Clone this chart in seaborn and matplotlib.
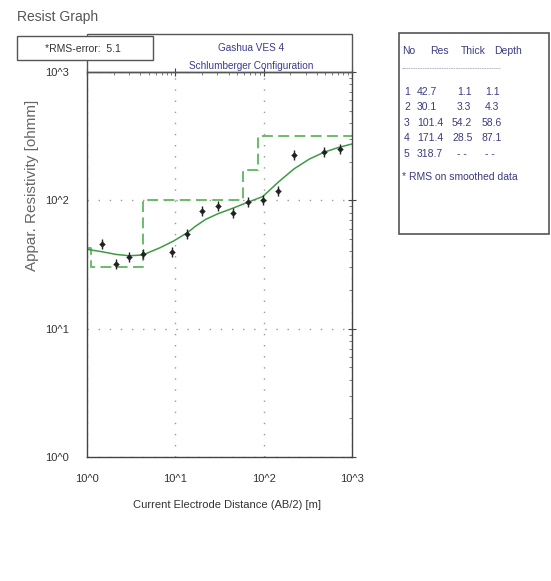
import matplotlib
matplotlib.use("Agg")
import matplotlib.pyplot as plt
import seaborn as sns
import pandas as pd
from matplotlib.patches import Rectangle

# ---- data ----
obs_x = [1.47, 2.13, 3.0, 4.27, 9.1, 13.7, 20.2, 30.2, 44.7, 66, 97.6, 147, 221, 483, 733]
obs_y = [45.3, 31.8, 36.5, 37.9, 39.8, 55, 83.3, 89.9, 79.9, 96.6, 101, 119, 227, 237, 251]

fit_x = [1.0, 1.47, 2.13, 3.0, 4.27, 6.7, 9.5, 13.7, 17.0, 22.0, 30.2, 44.7, 66, 97.6, 147, 221, 330, 483, 700, 1000]
fit_y = [41.5, 39.8, 37.9, 37.0, 37.5, 42.7, 48.1, 56, 63, 71, 78.5, 86.8, 96.6, 107, 139, 176, 210, 237, 258, 275]

layer_no = [1, 2, 3, 4, 5]
layer_res = [42.7, 30.1, 101.4, 171.4, 318.7]
layer_thick = ["1.1", "3.3", "54.2", "28.5", "- -"]
layer_depth = ["1.1", "4.3", "58.6", "87.1", "- -"]
step_x = [1.0, 1.1, 4.3, 58.6, 87.1, 1000]

rms_error = 5.1
tick_vals = [1, 10, 100, 1000]
tick_labels = ["10^0", "10^1", "10^2", "10^3"]

# ---- style ----
sns.set_theme(style="white")
plt.rcParams["font.family"] = ["Liberation Sans", "DejaVu Sans"]

W, H = 551, 581
fig = plt.figure(figsize=(W / 100, H / 100), dpi=100)
fx = lambda px: px / W
fy = lambda py: 1 - py / H

ax = fig.add_axes([fx(87), fy(457), fx(352) - fx(87), fy(72) - fy(457)])
ax.set_xscale("log")
ax.set_yscale("log")

step_df = pd.DataFrame({"x": step_x, "y": layer_res + [layer_res[-1]]})
sns.lineplot(data=step_df, x="x", y="y", ax=ax, estimator=None, sort=False,
             drawstyle="steps-post", color="#5cb85c", lw=1.3, dashes=False,
             linestyle=(0, (6, 3)))

fit_df = pd.DataFrame({"x": fit_x, "y": fit_y})
sns.lineplot(data=fit_df, x="x", y="y", ax=ax, estimator=None, sort=False,
             color="#3f9a46", lw=1.1)

obs_df = pd.DataFrame({"x": obs_x, "y": obs_y})
sns.scatterplot(data=obs_df, x="x", y="y", ax=ax, marker="|", s=60,
                color="#222222", linewidth=1.0, zorder=5)
sns.scatterplot(data=obs_df, x="x", y="y", ax=ax, marker="D", s=9,
                color="#222222", edgecolor="#222222", zorder=6)

ax.set_xlim(1, 1000)
ax.set_ylim(1, 1000)
ax.set_xticks(tick_vals)
ax.set_xticklabels(tick_labels)
ax.set_yticks(tick_vals)
ax.set_yticklabels(tick_labels)
ax.set_xlabel("")
ax.set_ylabel("")
ax.grid(True, which="major", color="#999999", linestyle=(0, (1, 7)), lw=1.0)
ax.tick_params(axis="both", which="major", direction="inout", length=6, width=0.8,
               colors="#444444", labelcolor="#333333", labelsize=8,
               top=True, right=True)
ax.tick_params(axis="x", which="major", pad=9.5)
ax.tick_params(axis="y", which="major", pad=10)
ax.tick_params(axis="both", which="minor", direction="in", length=2.5, width=0.6,
               colors="#666666", top=True, right=True)
for sp in ax.spines.values():
    sp.set_color("#444444")
    sp.set_linewidth(1.0)

# title box
fig.patches.append(Rectangle((fx(87), fy(72)), fx(352) - fx(87), fy(34) - fy(72),
                             transform=fig.transFigure, fill=False,
                             edgecolor="#555555", lw=1.0))
fig.text(fx(251), fy(48), "Gashua VES 4", ha="center", va="center",
         fontsize=7.2, color="#3b3b8f")
fig.text(fx(251), fy(66), "Schlumberger Configuration", ha="center", va="center",
         fontsize=7.2, color="#3b3b8f")

# RMS box
fig.patches.append(Rectangle((fx(17), fy(60)), fx(153) - fx(17), fy(36) - fy(60),
                             transform=fig.transFigure, facecolor="white",
                             edgecolor="#555555", lw=1.0, zorder=3))
fig.text(fx(83), fy(49), f"*RMS-error:  {rms_error}", ha="center", va="center",
         fontsize=7.5, color="#333333", zorder=4)

fig.text(fx(17), fy(17), "Resist Graph", ha="left", va="center",
         fontsize=10, color="#555555")

# axis labels
fig.text(fx(32), fy(185), "Appar. Resistivity [ohmm]", rotation=90,
         ha="center", va="center", fontsize=11, color="#666666")
fig.text(fx(227), fy(505), "Current Electrode Distance (AB/2) [m]",
         ha="center", va="center", fontsize=8, color="#333333")

# table box
fig.patches.append(Rectangle((fx(399), fy(234)), fx(549) - fx(399), fy(33) - fy(234),
                             transform=fig.transFigure, fill=False,
                             edgecolor="#555555", lw=1.2))
tc = "#3b3b80"
fs = 7.5
fig.text(fx(402), fy(51), "No", ha="left", va="center", fontsize=fs, color=tc)
fig.text(fx(430), fy(51), "Res", ha="left", va="center", fontsize=fs, color=tc)
fig.text(fx(461), fy(51), "Thick", ha="left", va="center", fontsize=fs, color=tc)
fig.text(fx(494), fy(51), "Depth", ha="left", va="center", fontsize=fs, color=tc)
fig.text(fx(402), fy(69), "-" * 42, ha="left", va="center", fontsize=5, color="#8888aa")
row_y = [92, 107, 123, 138, 154]
for n, r, t, d, yy in zip(layer_no, layer_res, layer_thick, layer_depth, row_y):
    fig.text(fx(404), fy(yy), str(n), ha="left", va="center", fontsize=fs, color=tc)
    fig.text(fx(417), fy(yy), f"{r}", ha="left", va="center", fontsize=fs, color=tc)
    fig.text(fx(452) if len(t) > 3 else fx(457), fy(yy), t, ha="left", va="center", fontsize=fs, color=tc)
    fig.text(fx(482) if len(d) > 3 else fx(485), fy(yy), d, ha="left", va="center", fontsize=fs, color=tc)
fig.text(fx(402), fy(177), "* RMS on smoothed data", ha="left", va="center",
         fontsize=fs, color=tc)

fig.savefig("out.png", dpi=100, facecolor="white")
